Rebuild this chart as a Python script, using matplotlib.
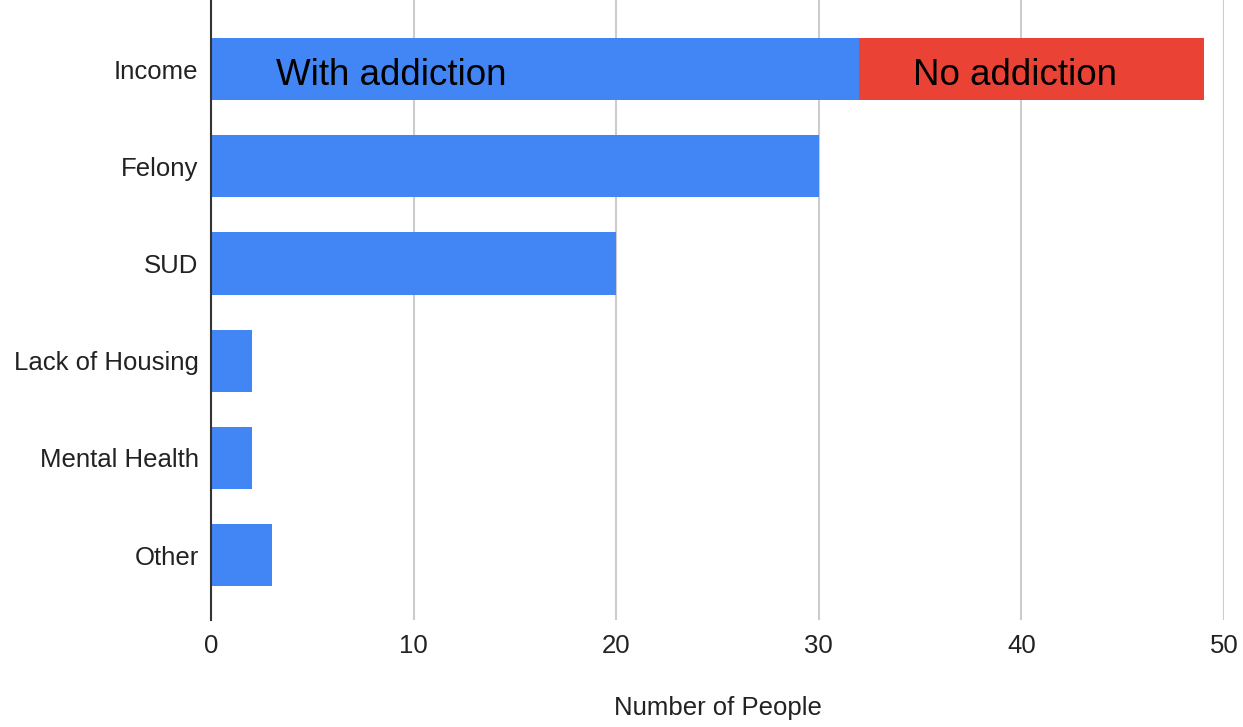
import numpy as np
import matplotlib.pyplot as plt

plt.rcParams['font.family'] = ['Liberation Sans', 'DejaVu Sans']

categories = ['Income', 'Felony', 'SUD', 'Lack of Housing', 'Mental Health', 'Other']
with_addiction = [32, 30, 20, 2, 2, 3]
no_addiction = [17, 0, 0, 0, 0, 0]
xticks = [0, 10, 20, 30, 40, 50]

blue = '#4285F4'
red = '#EA4335'

fig = plt.figure(figsize=(12.43, 7.27), dpi=100)
ax = fig.add_axes([0.1698, 0.147, 0.8149, 0.853])

y = np.arange(len(categories))
ax.barh(y, with_addiction, height=0.64, color=blue, zorder=3)
ax.barh(y, no_addiction, left=with_addiction, height=0.64, color=red, zorder=3)

# in-bar labels on the Income row
ax.text(8.9, 0.03, 'With addiction', ha='center', va='center_baseline', fontsize=26.5, color='black', zorder=4)
ax.text(39.7, 0.03, 'No addiction', ha='center', va='center_baseline', fontsize=26.5, color='black', zorder=4)

ax.set_ylim(5.67, -0.71)
ax.set_xlim(0, 50)
ax.set_yticks(y)
ax.set_yticklabels(categories)
ax.set_xticks(xticks)
ax.tick_params(axis='both', length=0, labelsize=18.5, labelcolor='#222222')
ax.tick_params(axis='x', pad=10)
ax.tick_params(axis='y', pad=9)

ax.grid(axis='x', color='#cccccc', linewidth=1.5, zorder=0)
for s in ['top', 'right', 'bottom']:
    ax.spines[s].set_visible(False)
ax.spines['left'].set_color('#333333')
ax.spines['left'].set_linewidth(1.5)
ax.spines['left'].set_zorder(5)

ax.set_xlabel('Number of People', fontsize=18.5, color='#222222', labelpad=27)

fig.savefig('out.png', dpi=100)
